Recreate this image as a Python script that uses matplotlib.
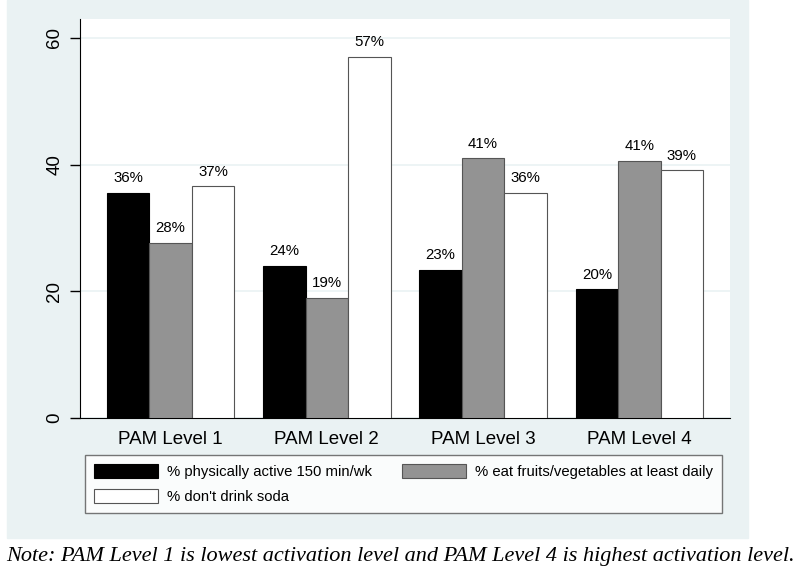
import numpy as np
import matplotlib
matplotlib.use('Agg')
from matplotlib import pyplot as plt
from matplotlib.patches import Rectangle

# datos
groups = ['PAM Level 1', 'PAM Level 2', 'PAM Level 3', 'PAM Level 4']
active = [35.6, 24.0, 23.4, 20.3]
fruits = [27.7, 19.0, 41.0, 40.6]
soda = [36.6, 57.0, 35.6, 39.1]
labels_active = ['36%', '24%', '23%', '20%']
labels_fruits = ['28%', '19%', '41%', '41%']
labels_soda = ['37%', '57%', '36%', '39%']
series_names = ['% physically active 150 min/wk',
                '% eat fruits/vegetables at least daily',
                "% don't drink soda"]
note = 'Note: PAM Level 1 is lowest activation level and PAM Level 4 is highest activation level.'

plt.rcParams['font.family'] = ['Liberation Sans', 'DejaVu Sans']
bg = '#EAF2F3'

fig = plt.figure(figsize=(8, 5.71), dpi=100)
fig.patches.append(Rectangle((7/800, 1 - 538/571), 741/800, 538/571,
                             transform=fig.transFigure, color=bg, zorder=-5))

ax = fig.add_axes([80/800, 1 - 418/571, 650/800, 399/571])
ax.set_facecolor('white')

x = np.arange(len(groups))
w = 0.272
b1 = ax.bar(x - w, active, w, color='black', edgecolor='black', linewidth=0.8, zorder=3)
b2 = ax.bar(x, fruits, w, color='#939393', edgecolor='#555555', linewidth=0.8, zorder=3)
b3 = ax.bar(x + w, soda, w, color='white', edgecolor='#555555', linewidth=0.8, zorder=3)

for bars, labs in [(b1, labels_active), (b2, labels_fruits), (b3, labels_soda)]:
    for b, t in zip(bars, labs):
        ax.text(b.get_x() + b.get_width() / 2, b.get_height() + 1.2, t,
                ha='center', va='bottom', fontsize=10.8)

ax.set_xlim(-0.58, 3.58)
ax.set_ylim(0, 63)
ax.set_xticks(x)
ax.set_xticklabels(groups, fontsize=13.5)
ax.tick_params(axis='x', length=0, pad=9)
ax.set_yticks([0, 20, 40, 60])
ax.set_yticklabels(['0', '20', '40', '60'], fontsize=13.5, rotation=90, va='center')
ax.tick_params(axis='y', length=7, width=1, pad=5)
ax.grid(axis='y', color=bg, linewidth=1.2, zorder=0)
ax.spines['top'].set_visible(False)
ax.spines['right'].set_visible(False)
ax.spines['left'].set_color('black')
ax.spines['bottom'].set_color('black')

leg = fig.legend([b1, b3, b2], [series_names[0], series_names[2], series_names[1]],
                 ncol=2, loc='center', mode='expand',
                 bbox_to_anchor=(85/800, 1 - 514/571, 637/800, 60/571),
                 fontsize=10.7, handlelength=4.3, handleheight=1.1,
                 handletextpad=0.6, labelspacing=0.65, borderaxespad=0,
                 borderpad=0.6, fancybox=False, frameon=True, edgecolor='#555555')
leg.get_frame().set_linewidth(1)

fig.text(0.5, 1 - 556/571, note, ha='center', va='center', fontsize=16.0,
         style='italic', family=['Liberation Serif', 'DejaVu Serif'])

fig.savefig('out.png', dpi=100)
